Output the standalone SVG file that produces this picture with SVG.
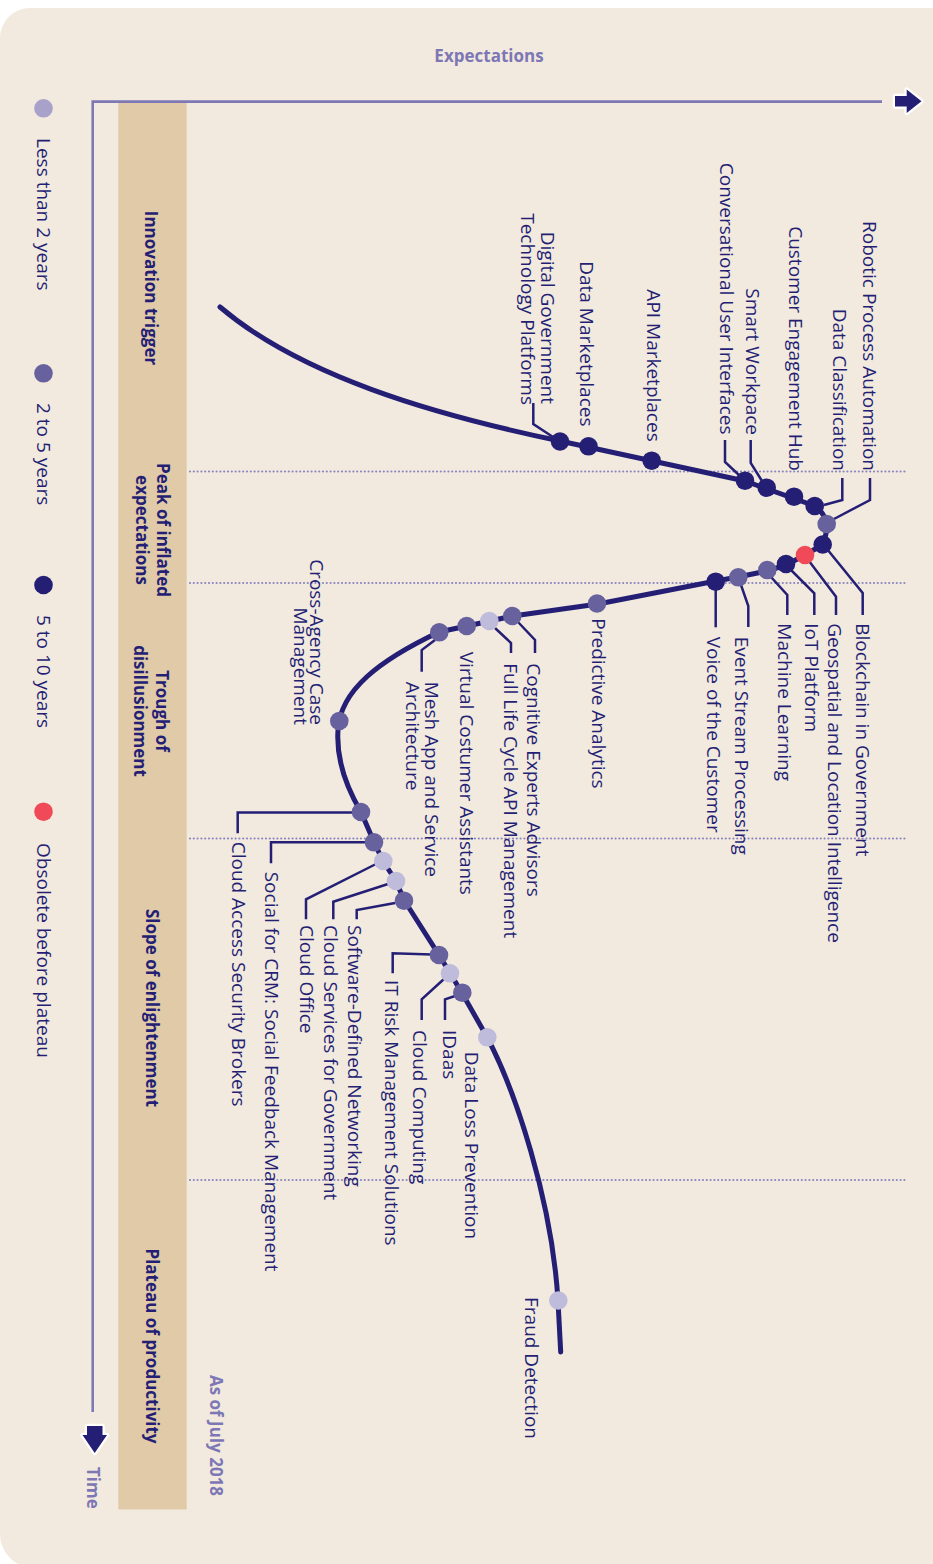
<svg xmlns="http://www.w3.org/2000/svg" width="933" height="1564" viewBox="0 0 933 1564">
<style>
.lbl{font-family:'Open Sans','Noto Sans','Liberation Sans',sans-serif;font-size:19px;fill:#241f75}
.ph{font-family:'Open Sans','Noto Sans','Liberation Sans',sans-serif;font-size:17px;font-weight:700;fill:#241f75}
.ax{font-family:'Open Sans','Noto Sans','Liberation Sans',sans-serif;font-size:17px;font-weight:700;fill:#7d77b5}
.lead{fill:none;stroke:#241f75;stroke-width:2.5;stroke-linejoin:miter}
.dot{stroke:none}
.n{fill:#241f75}.p{fill:#67629e}.l{fill:#bfbbdb}.r{fill:#f04a58}
.grid{stroke:#8a85c0;stroke-width:2.2;stroke-linecap:round;stroke-dasharray:0 3.8;fill:none}
</style>
<rect width="933" height="1564" fill="#ffffff"/>
<path d="M30,8 H933 V1568 H34 A34,34 0 0 1 0,1534 V38 A30,30 0 0 1 30,8 Z" fill="#f2eade"/>
<g id="phase-bar">
<rect x="118.3" y="102.5" width="68.4" height="1407" fill="#e0caa8"/>
</g>
<g id="gridlines">
<line class="grid" x1="190" y1="471.5" x2="908" y2="471.5"/>
<line class="grid" x1="190" y1="583" x2="908" y2="583"/>
<line class="grid" x1="190" y1="838.5" x2="908" y2="838.5"/>
<line class="grid" x1="190" y1="1180" x2="908" y2="1180"/>
</g>
<g id="axes">
<path d="M92.7,1412 V101.6 H882" fill="none" stroke="#7e78b5" stroke-width="2.6"/>
<polygon points="895,96 906.7,96 906.7,89.5 921.5,101.3 906.7,113 906.7,106.5 895,106.5" fill="#241f75" stroke="#ffffff" stroke-width="4.5" stroke-linejoin="round" paint-order="stroke"/>
<polygon points="87,1426 102.5,1426 102.5,1435 107,1435 94.7,1453 82.5,1435 87,1435" fill="#241f75" stroke="#ffffff" stroke-width="4.5" stroke-linejoin="round" paint-order="stroke"/>
<text class="ax" x="489" y="62" text-anchor="middle" font-size="18">Expectations</text>
<text class="ax" transform="translate(87,1467) rotate(90)">Time</text>
<text class="ax" transform="translate(210,1375) rotate(90)" font-size="17.5">As of July 2018</text>
</g>
<g id="phase-labels">
<text class="ph" transform="translate(144.5,288) rotate(90)" text-anchor="middle">Innovation trigger</text>
<text class="ph" transform="translate(156.5,530) rotate(90)" text-anchor="middle">Peak of inflated</text>
<text class="ph" transform="translate(135.5,530) rotate(90)" text-anchor="middle">expectations</text>
<text class="ph" transform="translate(156,711) rotate(90)" text-anchor="middle">Trough of</text>
<text class="ph" transform="translate(134,711) rotate(90)" text-anchor="middle">disillusionment</text>
<text class="ph" transform="translate(146,1008) rotate(90)" text-anchor="middle">Slope of enlightenment</text>
<text class="ph" transform="translate(145.5,1346) rotate(90)" text-anchor="middle">Plateau of productivity</text>
</g>
<g id="legend">
<g id="legend-lt2"><circle cx="43.5" cy="108.3" r="9.3" fill="#a8a2cb"/><text class="lbl" transform="translate(36.5,138) rotate(90)">Less than 2 years</text></g>
<g id="legend-2to5"><circle cx="43.5" cy="373.3" r="9.3" fill="#67629e"/><text class="lbl" transform="translate(36.5,403) rotate(90)">2 to 5 years</text></g>
<g id="legend-5to10"><circle cx="43.5" cy="585" r="9.3" fill="#241f75"/><text class="lbl" transform="translate(36.5,615) rotate(90)">5 to 10 years</text></g>
<g id="legend-obsolete"><circle cx="43.5" cy="811.7" r="9.3" fill="#f04a58"/><text class="lbl" transform="translate(36.5,843) rotate(90)">Obsolete before plateau</text></g>
</g>
<g id="curve">
<path d="M220,307 C300,375 430,414 560,441 L745,481 L815,506 Q834,520 822,545 L805,555 L786,565 L767,571 L738,577 L716,581 L598,604 L513,616 L490,621 L467,626 L439,632 C380,660 340,690 338,730 C336,760 348,790 361,812 L374,842 L383,861 L396,881 L404,900 L439,955 L450,973 L462,993 L487,1037 C515,1090 552,1200 558,1301 L560.7,1352" fill="none" stroke="#241f75" stroke-width="5" stroke-linecap="round" stroke-linejoin="round"/>
</g>
<g id="connectors">
<path class="lead" d="M533.3,403 V424 L553,437"/>
<path class="lead" d="M725,440 V462 L740,476"/>
<path class="lead" d="M750.7,440 V463 L762,481"/>
<path class="lead" d="M842.3,478 V500 L824,505"/>
<path class="lead" d="M870,478 V500 L834,519"/>
<path class="lead" d="M827,549 L862.7,593 V615"/>
<path class="lead" d="M809,561 L836,596.7 V615"/>
<path class="lead" d="M791,570 L814.3,593.3 V615"/>
<path class="lead" d="M771,577 L787.3,595 V615"/>
<path class="lead" d="M741,585 L748.3,606 V627"/>
<path class="lead" d="M715.7,590 V627.3"/>
<path class="lead" d="M518,622 L535,640 V653"/>
<path class="lead" d="M495,628 L511,643 V653"/>
<path class="lead" d="M435,640 L421.7,650 V671.7"/>
<path class="lead" d="M352,812.5 H237.7 V833.3"/>
<path class="lead" d="M365,842.3 H271 V863.3"/>
<path class="lead" d="M376,864 L306,899.3 V919.3"/>
<path class="lead" d="M388,884 L333.3,901.7 V919.3"/>
<path class="lead" d="M395,903 L356.7,910 V919.3"/>
<path class="lead" d="M432,954.5 L392.7,953.3 V973.3"/>
<path class="lead" d="M444,979 L421.7,999.3 V1020"/>
<path class="lead" d="M455,996 L445,999.3 V1020"/>
</g>
<g id="nodes">
<g id="digital-government"><circle class="n" cx="560" cy="441.5" r="9.3"/><text class="lbl" text-anchor="end" transform="translate(540.7,404) rotate(90)">Digital Government</text><text class="lbl" text-anchor="end" transform="translate(520.7,405) rotate(90)">Technology Platforms</text></g>
<g id="data-marketplaces"><circle class="n" cx="588.5" cy="446.3" r="9.3"/><text class="lbl" text-anchor="end" transform="translate(580,426.5) rotate(90)">Data Marketplaces</text></g>
<g id="api-marketplaces"><circle class="n" cx="651.7" cy="460.7" r="9.3"/><text class="lbl" text-anchor="end" transform="translate(646.7,441.7) rotate(90)">API Marketplaces</text></g>
<g id="conversational-ui"><circle class="n" cx="745" cy="480.7" r="9.3"/><text class="lbl" text-anchor="end" transform="translate(720,434.5) rotate(90)">Conversational User Interfaces</text></g>
<g id="smart-workpace"><circle class="n" cx="766.7" cy="487.7" r="9.3"/><text class="lbl" text-anchor="end" transform="translate(746,435) rotate(90)">Smart Workpace</text></g>
<g id="customer-engagement-hub"><circle class="n" cx="794" cy="496.7" r="9.3"/><text class="lbl" text-anchor="end" transform="translate(788.5,471) rotate(90)">Customer Engagement Hub</text></g>
<g id="data-classification"><circle class="n" cx="814.7" cy="506" r="9.3"/><text class="lbl" text-anchor="end" transform="translate(833,471) rotate(90)">Data Classification</text></g>
<g id="rpa"><circle class="p" cx="826.7" cy="524" r="9.3"/><text class="lbl" text-anchor="end" transform="translate(863,471) rotate(90)">Robotic Process Automation</text></g>
<g id="blockchain"><circle class="n" cx="822.7" cy="544.5" r="9.3"/><text class="lbl" transform="translate(856,623.3) rotate(90)">Blockchain in Government</text></g>
<g id="geospatial"><circle class="r" cx="805" cy="555" r="9.3"/><text class="lbl" transform="translate(828,623.3) rotate(90)">Geospatial and Location Intelligence</text></g>
<g id="iot-platform"><circle class="n" cx="786" cy="564" r="9.3"/><text class="lbl" transform="translate(805,623.3) rotate(90)">IoT Platform</text></g>
<g id="machine-learning"><circle class="p" cx="767.3" cy="570" r="9.3"/><text class="lbl" transform="translate(778,623.3) rotate(90)">Machine Learning</text></g>
<g id="event-stream"><circle class="p" cx="738.3" cy="577.3" r="9.3"/><text class="lbl" transform="translate(735,636.7) rotate(90)">Event Stream Processing</text></g>
<g id="voice-customer"><circle class="n" cx="715.7" cy="581.7" r="9.3"/><text class="lbl" transform="translate(706.7,636.7) rotate(90)">Voice of the Customer</text></g>
<g id="predictive-analytics"><circle class="p" cx="597" cy="603.5" r="9.3"/><text class="lbl" transform="translate(591.7,618.3) rotate(90)">Predictive Analytics</text></g>
<g id="cognitive-experts"><circle class="p" cx="512.3" cy="616" r="9.3"/><text class="lbl" transform="translate(526.7,663.3) rotate(90)">Cognitive Experts Advisors</text></g>
<g id="full-life-cycle-api"><circle class="l" cx="489.3" cy="621" r="9.3"/><text class="lbl" transform="translate(504,663.3) rotate(90)">Full Life Cycle API Management</text></g>
<g id="virtual-assistants"><circle class="p" cx="466.7" cy="626" r="9.3"/><text class="lbl" transform="translate(460,651.7) rotate(90)">Virtual Costumer Assistants</text></g>
<g id="mesh-app"><circle class="p" cx="439.3" cy="632.3" r="9.3"/><text class="lbl" transform="translate(425,681.7) rotate(90)">Mesh App and Service</text><text class="lbl" transform="translate(406,681.7) rotate(90)">Architecture</text></g>
<g id="cross-agency"><circle class="p" cx="339.3" cy="721" r="9.3"/><text class="lbl" text-anchor="end" transform="translate(310,725) rotate(90)">Cross-Agency Case</text><text class="lbl" text-anchor="end" transform="translate(293.5,725) rotate(90)">Management</text></g>
<g id="casb"><circle class="p" cx="361" cy="812" r="9.3"/><text class="lbl" transform="translate(231.7,841.7) rotate(90)">Cloud Access Security Brokers</text></g>
<g id="social-crm"><circle class="p" cx="374" cy="842.3" r="9.3"/><text class="lbl" transform="translate(265,871.7) rotate(90)">Social for CRM: Social Feedback Management</text></g>
<g id="cloud-office"><circle class="l" cx="383.3" cy="861" r="9.3"/><text class="lbl" transform="translate(300,925) rotate(90)">Cloud Office</text></g>
<g id="cloud-services-gov"><circle class="l" cx="396" cy="881" r="9.3"/><text class="lbl" transform="translate(324,925) rotate(90)">Cloud Services for Government</text></g>
<g id="sdn"><circle class="p" cx="404" cy="900.7" r="9.3"/><text class="lbl" transform="translate(348.3,925) rotate(90)">Software-Defined Networking</text></g>
<g id="it-risk"><circle class="p" cx="439" cy="955" r="9.3"/><text class="lbl" transform="translate(385,980) rotate(90)">IT Risk Management Solutions</text></g>
<g id="cloud-computing"><circle class="l" cx="450" cy="973.3" r="9.3"/><text class="lbl" transform="translate(413.3,1030) rotate(90)">Cloud Computing</text></g>
<g id="idaas"><circle class="p" cx="462.3" cy="992.7" r="9.3"/><text class="lbl" transform="translate(442.7,1030) rotate(90)">IDaas</text></g>
<g id="data-loss-prevention"><circle class="l" cx="487.3" cy="1037.3" r="9.3"/><text class="lbl" transform="translate(465,1051.7) rotate(90)">Data Loss Prevention</text></g>
<g id="fraud-detection"><circle class="l" cx="558.3" cy="1300.5" r="9.3"/><text class="lbl" transform="translate(525,1297) rotate(90)">Fraud Detection</text></g>
</g>
</svg>
